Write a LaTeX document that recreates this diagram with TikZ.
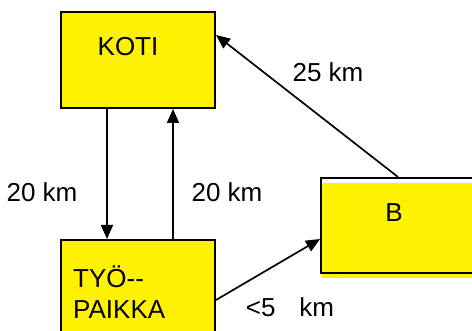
\documentclass[tikz,border=0pt]{standalone}
\usepackage{fontspec}
\setmainfont{Liberation Sans}
\usetikzlibrary{arrows.meta}
\begin{document}
\begin{tikzpicture}[x=1pt,y=-1pt,
  box/.style={draw=black,line width=2pt,fill=yellow,rectangle,inner sep=0pt},
  conn/.style={line width=1.7pt,-{Triangle[length=14pt,width=12pt]}},
  lbl/.style={font=\fontsize{26}{31}\selectfont,inner sep=0pt}]
\useasboundingbox (0,0) rectangle (472,331);
\clip (0,0) rectangle (472,331);
% boxes
\node[box,minimum width=154pt,minimum height=96pt] (koti) at (138,60) {};
\node[box,minimum width=154pt,minimum height=120pt] (tyo) at (138,300) {};
\fill[yellow] (322,183) rectangle (500,278);
\node[draw=black,line width=2pt,rectangle,inner sep=0pt,minimum width=179pt,minimum height=95pt] (b) at (410.5,225.5) {};
% helper coordinates
\coordinate (xa) at (107,0);
\coordinate (xb) at (173,0);
\coordinate (xc) at (398,0);
\coordinate (yk) at (0,35);
\coordinate (yt) at (0,300);
\coordinate (yb) at (0,239);
% connectors
\draw[conn] (koti.south -| xa) -- (tyo.north -| xa);
\draw[conn] (tyo.north -| xb) -- (koti.south -| xb);
\draw[conn] (b.north -| xc) -- (koti.east |- yk);
\draw[conn] (tyo.east |- yt) -- (b.west |- yb);
% texts
\node[lbl] (kotit) at (128,47) {KOTI};
\node[lbl,align=left,anchor=west] (tyot) at (73,292) {TYÖ-\kern0pt-\\PAIKKA};
\node[lbl] (bt) at (394,213) {B};
\node[lbl] (l1) at (42,192) {20 km};
\node[lbl] (l2) at (227,192) {20 km};
\node[lbl] (l3) at (328,72) {25 km};
\node[lbl] (l4) at (290,307) {<5\hspace{24pt}km};
\end{tikzpicture}
\end{document}
